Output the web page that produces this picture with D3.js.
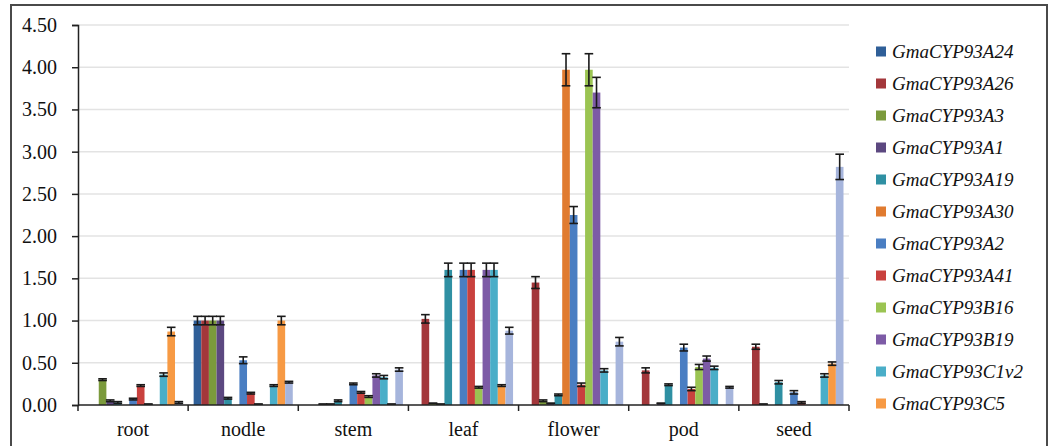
<!DOCTYPE html>
<html>
<head>
<meta charset="utf-8">
<script src="https://cdn.jsdelivr.net/npm/d3@7"></script>
<style>
  body { margin: 0; background: #fff; }
  svg text { font-family: "Liberation Serif", "DejaVu Serif", serif !important; }
</style>
</head>
<body>
<div id="canvas"></div>
<script>
"use strict"

// tissues along the x axis
let tissues = ["root", "nodle", "stem", "leaf", "flower", "pod", "seed"];

// gene names, the last one is not shown in the legend
let genes = ["GmaCYP93A24", "GmaCYP93A26", "GmaCYP93A3", "GmaCYP93A1", "GmaCYP93A19",
    "GmaCYP93A30", "GmaCYP93A2", "GmaCYP93A41", "GmaCYP93B16", "GmaCYP93B19",
    "GmaCYP93C1v2", "GmaCYP93C5", "GmaCYP93C?"];

let geneColors = ["#2f5f98", "#a3373b", "#7b9a3c", "#5c4880", "#2f90a3", "#e07b30",
    "#4a7ec2", "#c9413e", "#9bc452", "#7d5ba6", "#4aaec8", "#f79a44", "#a6b5dc"];

// relative expression, one row per gene, one value per tissue
let A24 = [0, 1.00, 0, 0, 0, 0, 0];
let A26 = [0, 1.00, 0, 1.02, 1.45, 0.41, 0.69];
let A3 = [0.30, 1.00, 0.01, 0.02, 0.05, 0, 0.01];
let A1 = [0.05, 1.00, 0.01, 0.01, 0.02, 0.02, 0];
let A19 = [0.03, 0.08, 0.05, 1.60, 0.12, 0.24, 0.27];
let A30 = [0, 0, 0, 0, 3.97, 0, 0];
let A2 = [0.07, 0.53, 0.25, 1.60, 2.25, 0.68, 0.15];
let A41 = [0.23, 0.14, 0.15, 1.60, 0.24, 0.19, 0.03];
let B16 = [0.01, 0.01, 0.10, 0.21, 3.97, 0.45, 0];
let B19 = [0, 0, 0.35, 1.60, 3.70, 0.55, 0];
let C1v2 = [0.36, 0.23, 0.33, 1.60, 0.41, 0.44, 0.35];
let C5 = [0.87, 1.00, 0.01, 0.23, 0, 0, 0.49];
let C13 = [0.03, 0.27, 0.42, 0.88, 0.75, 0.21, 2.82];

// error bars (same order)
let errA24 = [0, 0.05, 0, 0, 0, 0, 0];
let errA26 = [0, 0.05, 0, 0.05, 0.07, 0.03, 0.03];
let errA3 = [0.01, 0.05, 0, 0, 0.01, 0, 0];
let errA1 = [0.01, 0.05, 0, 0, 0, 0, 0];
let errA19 = [0.01, 0.01, 0.01, 0.08, 0.01, 0.01, 0.02];
let errA30 = [0, 0, 0, 0, 0.19, 0, 0];
let errA2 = [0.01, 0.04, 0.01, 0.08, 0.10, 0.04, 0.02];
let errA41 = [0.01, 0.01, 0.01, 0.08, 0.02, 0.02, 0.01];
let errB16 = [0, 0, 0.01, 0.01, 0.19, 0.03, 0];
let errB19 = [0, 0, 0.02, 0.08, 0.18, 0.03, 0];
let errC1v2 = [0.02, 0.01, 0.02, 0.08, 0.02, 0.02, 0.02];
let errC5 = [0.05, 0.05, 0, 0.01, 0, 0, 0.02];
let errC13 = [0.01, 0.01, 0.02, 0.04, 0.05, 0.01, 0.15];

let values = [A24, A26, A3, A1, A19, A30, A2, A41, B16, B19, C1v2, C5, C13];
let errors = [errA24, errA26, errA3, errA1, errA19, errA30, errA2, errA41, errB16, errB19, errC1v2, errC5, errC13];

let yTicks = [0, 0.5, 1, 1.5, 2, 2.5, 3, 3.5, 4, 4.5];

let serif = "'Liberation Serif', 'DejaVu Serif', serif";

let drawing = d3.select("#canvas")
    .append("svg")
    .attr("width", 1053)
    .attr("height", 446);

// frame round the picture (bottom edge is cut off)
drawing.append("rect")
    .attr("x", 11)
    .attr("y", 5)
    .attr("width", 1036)
    .attr("height", 460)
    .attr("fill", "none")
    .attr("stroke", "#4a4a4a")
    .attr("stroke-width", 2);

let plotLeft = 78;
let plotRight = 849;
let plotTop = 25;
let plotBottom = 405;

let x = d3.scaleBand()
    .domain(tissues)
    .range([plotLeft, plotRight])
    .paddingInner(0.1)
    .paddingOuter(0.05);

// bars inside a tissue group
let xInner = d3.scaleBand()
    .domain(d3.range(genes.length))
    .range([0, x.bandwidth()]);

let y = d3.scaleLinear()
    .domain([0, 4.5])
    .range([plotBottom, plotTop]);

// gridlines
drawing.append("g")
    .selectAll("line")
    .data(yTicks.slice(1))
    .join("line")
    .attr("x1", plotLeft)
    .attr("x2", plotRight)
    .attr("y1", d => y(d))
    .attr("y2", d => y(d))
    .attr("stroke", "#e3e3e3")
    .attr("stroke-width", 1.5);

// y axis
let yAxis = drawing.append("g")
    .attr("transform", "translate(" + plotLeft + ",0)")
    .call(d3.axisLeft(y).tickValues(yTicks).tickFormat(d3.format(".2f")).tickSize(6).tickPadding(15));

yAxis.attr("font-family", null);
yAxis.select(".domain").attr("stroke", "#222").attr("stroke-width", 1.5);
yAxis.selectAll(".tick line").attr("stroke", "#222").attr("stroke-width", 1.5);
yAxis.selectAll(".tick text")
    .style("font-family", serif)
    .attr("font-size", 20)
    .attr("fill", "#111");

// bars, one group per gene
let series = drawing.append("g")
    .selectAll("g")
    .data(genes.map((g, i) => ({ gene: g, index: i })))
    .join("g")
    .attr("fill", d => geneColors[d.index]);

series.selectAll("rect")
    .data(d => tissues.map((t, j) => ({ tissue: t, index: d.index, value: values[d.index][j], err: errors[d.index][j] })))
    .join("rect")
    .attr("x", d => x(d.tissue) + xInner(d.index))
    .attr("y", d => y(d.value))
    .attr("width", xInner.bandwidth())
    .attr("height", d => y(0) - y(d.value));

// error bars
let errorBars = drawing.append("g")
    .attr("stroke", "#1a1a1a")
    .attr("stroke-width", 1.6);

let errData = [];
genes.forEach((g, i) => {
    tissues.forEach((t, j) => {
        if (values[i][j] > 0) {
            errData.push({ tissue: t, index: i, value: values[i][j], err: errors[i][j] });
        }
    });
});

let capHalf = xInner.bandwidth() / 2 + 0.5;

errorBars.selectAll(".whisker")
    .data(errData)
    .join("line")
    .attr("class", "whisker")
    .attr("x1", d => x(d.tissue) + xInner(d.index) + xInner.bandwidth() / 2)
    .attr("x2", d => x(d.tissue) + xInner(d.index) + xInner.bandwidth() / 2)
    .attr("y1", d => y(Math.max(0, d.value - d.err)))
    .attr("y2", d => y(d.value + d.err));

errorBars.selectAll(".capTop")
    .data(errData)
    .join("line")
    .attr("class", "capTop")
    .attr("x1", d => x(d.tissue) + xInner(d.index) + xInner.bandwidth() / 2 - capHalf)
    .attr("x2", d => x(d.tissue) + xInner(d.index) + xInner.bandwidth() / 2 + capHalf)
    .attr("y1", d => y(d.value + d.err))
    .attr("y2", d => y(d.value + d.err));

errorBars.selectAll(".capBottom")
    .data(errData)
    .join("line")
    .attr("class", "capBottom")
    .attr("x1", d => x(d.tissue) + xInner(d.index) + xInner.bandwidth() / 2 - capHalf)
    .attr("x2", d => x(d.tissue) + xInner(d.index) + xInner.bandwidth() / 2 + capHalf)
    .attr("y1", d => y(Math.max(0, d.value - d.err)))
    .attr("y2", d => y(Math.max(0, d.value - d.err)));

// x axis line with ticks between the tissues
drawing.append("line")
    .attr("x1", plotLeft)
    .attr("x2", plotRight)
    .attr("y1", plotBottom)
    .attr("y2", plotBottom)
    .attr("stroke", "#222")
    .attr("stroke-width", 1.5);

drawing.append("g")
    .selectAll("line")
    .data(d3.range(tissues.length + 1))
    .join("line")
    .attr("x1", d => plotLeft + d * (plotRight - plotLeft) / tissues.length)
    .attr("x2", d => plotLeft + d * (plotRight - plotLeft) / tissues.length)
    .attr("y1", plotBottom)
    .attr("y2", plotBottom + 6)
    .attr("stroke", "#222")
    .attr("stroke-width", 1.5);

drawing.append("g")
    .selectAll("text")
    .data(tissues)
    .join("text")
    .attr("x", d => x(d) + x.bandwidth() / 2)
    .attr("y", 436)
    .attr("text-anchor", "middle")
    .style("font-family", serif)
    .attr("font-size", 20)
    .attr("fill", "#111")
    .text(d => d);

// legend, first twelve genes
let legend = drawing.append("g")
    .selectAll("g")
    .data(genes.slice(0, 12))
    .join("g")
    .attr("transform", (d, i) => "translate(876," + (51.5 + i * 32) + ")");

legend.append("rect")
    .attr("x", 0)
    .attr("y", -5)
    .attr("width", 10)
    .attr("height", 10)
    .attr("fill", (d, i) => geneColors[i]);

legend.append("text")
    .attr("x", 16)
    .attr("y", 0)
    .attr("dy", "0.35em")
    .style("font-family", serif)
    .attr("font-size", 19)
    .attr("font-style", "italic")
    .attr("fill", "#111")
    .text(d => d);
</script>
</body>
</html>
